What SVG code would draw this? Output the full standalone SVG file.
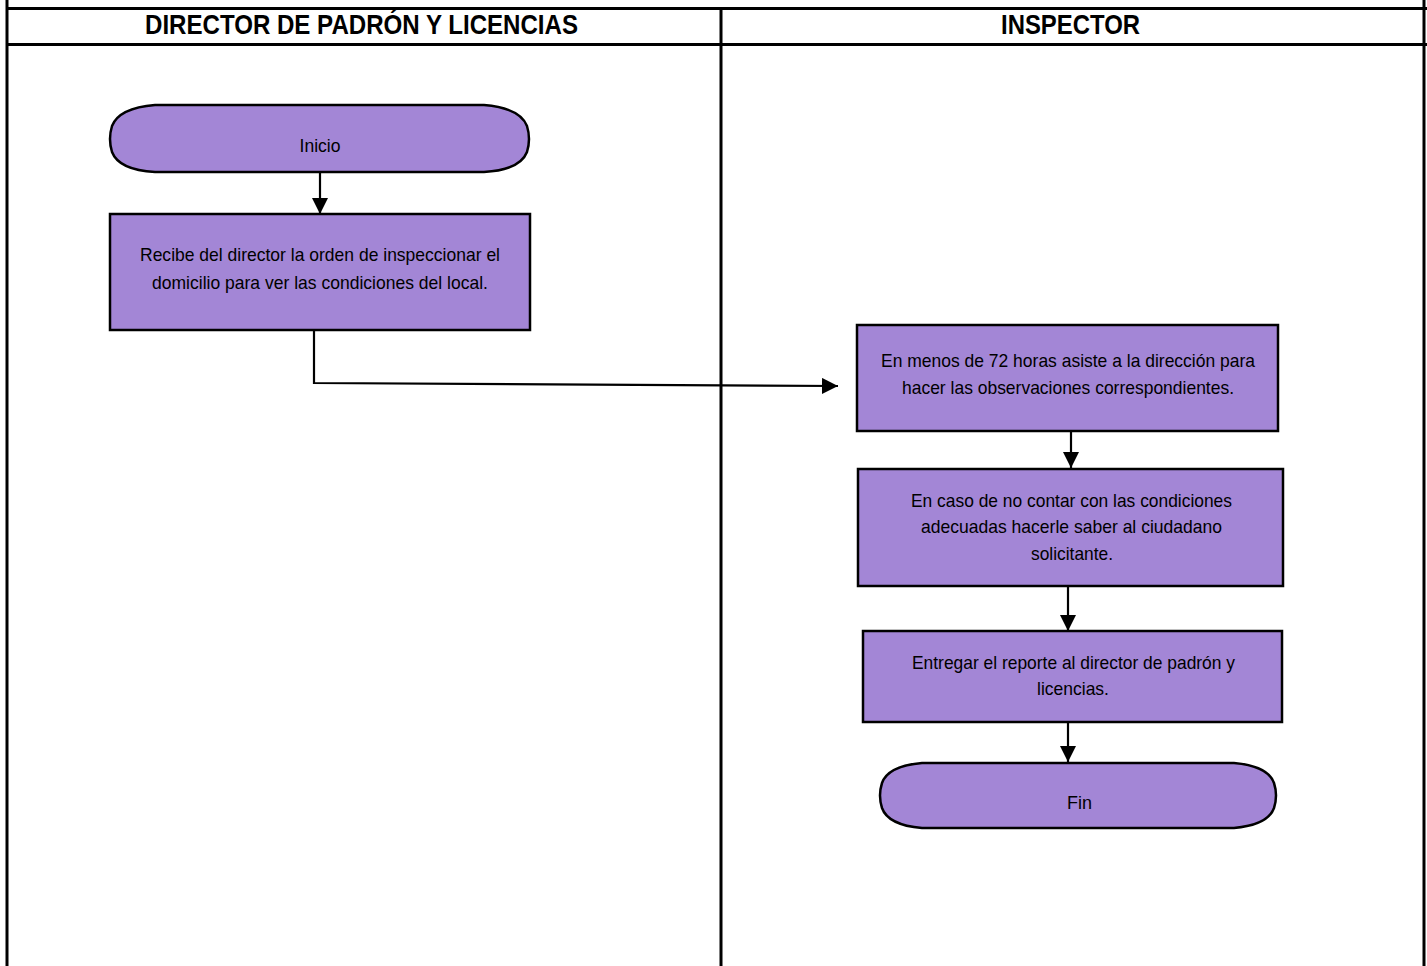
<svg xmlns="http://www.w3.org/2000/svg" width="1427" height="966" viewBox="0 0 1427 966">
<style>
.lane{stroke:#000;stroke-width:3;fill:none}
.hdr{font-family:"Liberation Sans Narrow","Liberation Sans",Arial,sans-serif;font-weight:bold;font-size:28px;fill:#000;text-anchor:middle}
.box{fill:#A386D6;stroke:#000;stroke-width:2.5}
.t{font-family:"Liberation Sans Narrow","Liberation Sans",Arial,sans-serif;font-size:19px;fill:#000;text-anchor:middle}
.c{stroke:#000;stroke-width:2.2;fill:none}
</style>
<defs>
<marker id="ah" markerWidth="16" markerHeight="16" viewBox="0 0 16 16" refX="16" refY="8" orient="auto" markerUnits="userSpaceOnUse">
<path d="M0,0 L16,8 L0,16 Z" fill="#000"/>
</marker>
</defs>
<rect width="1427" height="966" fill="#fff"/>
<g id="lanes">
<line class="lane" x1="7" y1="0" x2="7" y2="966"/>
<line class="lane" x1="7" y1="8.5" x2="1427" y2="8.5"/>
<line class="lane" x1="7" y1="44.5" x2="1427" y2="44.5"/>
<line class="lane" x1="721" y1="8" x2="721" y2="966"/>
<line class="lane" x1="1424" y1="0" x2="1424" y2="966"/>
<text class="hdr" x="361.5" y="34" textLength="433" lengthAdjust="spacingAndGlyphs">DIRECTOR DE PADRÓN Y LICENCIAS</text>
<text class="hdr" x="1070.5" y="34" textLength="139" lengthAdjust="spacingAndGlyphs">INSPECTOR</text>
</g>
<g id="connectors">
<path class="c" d="M320,172 V214" marker-end="url(#ah)"/>
<path class="c" d="M314,331 V383 L838,386" marker-end="url(#ah)"/>
<path class="c" d="M1071,431 V468" marker-end="url(#ah)"/>
<path class="c" d="M1068,586 V631" marker-end="url(#ah)"/>
<path class="c" d="M1068,722 V762" marker-end="url(#ah)"/>
</g>
<g id="inicio">
<path class="box" d="M155,105 H484 Q520,108 527,126 Q531,139 527,152 Q520,170 484,172 H155 Q119,170 112,152 Q108,139 112,126 Q119,108 155,105 Z"/>
<text class="t" x="320" y="152" textLength="41" lengthAdjust="spacingAndGlyphs">Inicio</text>
</g>
<g id="recibe">
<rect class="box" x="110" y="214" width="420" height="116"/>
<text class="t" x="320" y="261" textLength="360" lengthAdjust="spacingAndGlyphs">Recibe del director la orden de inspeccionar el</text>
<text class="t" x="320" y="289" textLength="336" lengthAdjust="spacingAndGlyphs">domicilio para ver las condiciones del local.</text>
</g>
<g id="asiste">
<rect class="box" x="857" y="325" width="421" height="106"/>
<text class="t" x="1068" y="367" textLength="374" lengthAdjust="spacingAndGlyphs">En menos de 72 horas asiste a la dirección para</text>
<text class="t" x="1068" y="394" textLength="332" lengthAdjust="spacingAndGlyphs">hacer las observaciones correspondientes.</text>
</g>
<g id="condiciones">
<rect class="box" x="858" y="469" width="425" height="117"/>
<text class="t" x="1071.5" y="507" textLength="321" lengthAdjust="spacingAndGlyphs">En caso de no contar con las condiciones</text>
<text class="t" x="1071.5" y="533" textLength="301" lengthAdjust="spacingAndGlyphs">adecuadas hacerle saber al ciudadano</text>
<text class="t" x="1072" y="560" textLength="82" lengthAdjust="spacingAndGlyphs">solicitante.</text>
</g>
<g id="reporte">
<rect class="box" x="863" y="631" width="419" height="91"/>
<text class="t" x="1073.5" y="669" textLength="323" lengthAdjust="spacingAndGlyphs">Entregar el reporte al director de padrón y</text>
<text class="t" x="1073" y="695" textLength="72" lengthAdjust="spacingAndGlyphs">licencias.</text>
</g>
<g id="fin">
<path class="box" d="M922,763 H1234 Q1268,766 1274,783 Q1278,795.5 1274,808 Q1268,825 1234,828 H922 Q888,825 882,808 Q878,795.5 882,783 Q888,766 922,763 Z"/>
<text class="t" x="1079.5" y="809" textLength="25" lengthAdjust="spacingAndGlyphs">Fin</text>
</g>
</svg>
